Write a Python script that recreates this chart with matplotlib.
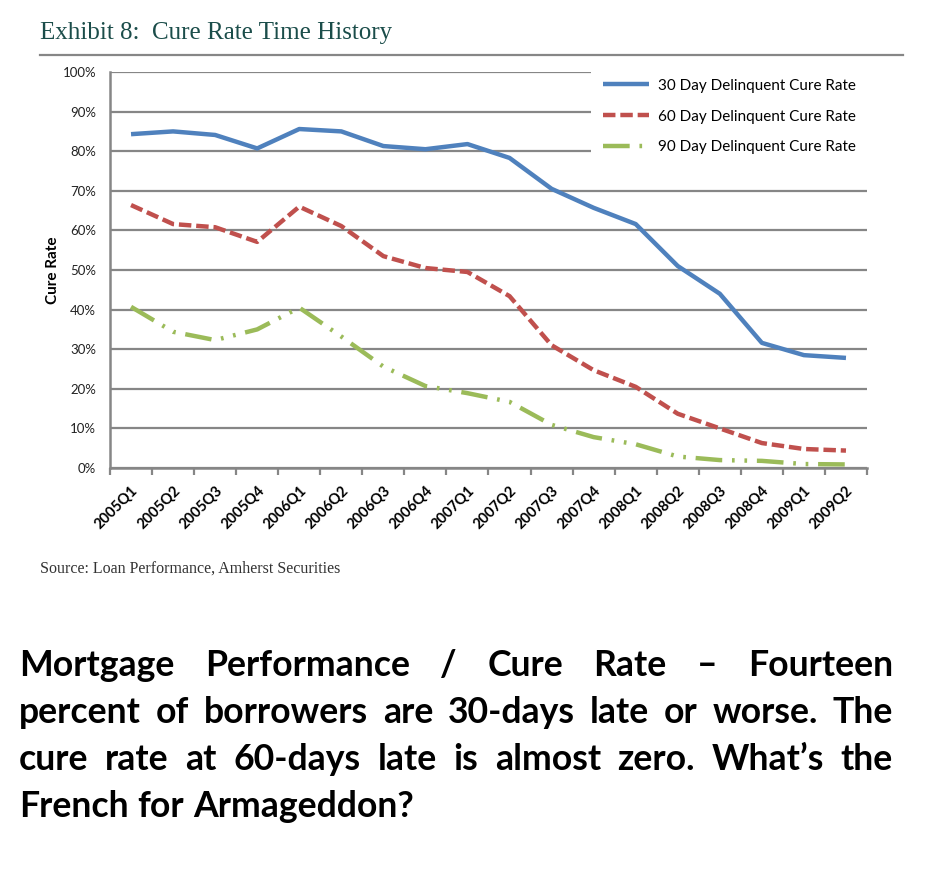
import numpy as np
import matplotlib
matplotlib.use('Agg')
import matplotlib.pyplot as plt

quarters = ['2005Q1', '2005Q2', '2005Q3', '2005Q4', '2006Q1', '2006Q2', '2006Q3', '2006Q4',
            '2007Q1', '2007Q2', '2007Q3', '2007Q4', '2008Q1', '2008Q2', '2008Q3', '2008Q4',
            '2009Q1', '2009Q2']
cure_30 = [84.3, 85.0, 84.1, 80.7, 85.6, 85.0, 81.3, 80.5, 81.8, 78.3, 70.5, 65.7,
           61.6, 51.0, 44.0, 31.6, 28.5, 27.8]
cure_60 = [66.4, 61.6, 60.8, 57.1, 66.0, 61.1, 53.5, 50.5, 49.5, 43.4, 31.0, 24.7,
           20.5, 13.7, 10.0, 6.3, 4.8, 4.4]
cure_90 = [40.7, 34.4, 32.3, 35.0, 40.5, 33.2, 25.6, 20.7, 18.9, 16.7, 10.9, 7.8,
           6.0, 2.9, 2.0, 1.8, 1.0, 0.9]
series_names = ['30 Day Delinquent Cure Rate', '60 Day Delinquent Cure Rate',
                '90 Day Delinquent Cure Rate']

paragraph = ['Mortgage Performance / Cure Rate \u2013 Fourteen',
             'percent of borrowers are 30-days late or worse. The',
             'cure rate at 60-days late is almost zero. What\u2019s the',
             'French for Armageddon?']

W, H = 927, 872
fig = plt.figure(figsize=(W / 100, H / 100), dpi=100)
sans = ['Lato', 'DejaVu Sans']
grid_c = '#868686'

ax = fig.add_axes([110 / W, 1 - 468 / H, (867 - 110) / W, (468 - 72) / H])
x = np.arange(len(quarters))
ax.plot(x, cure_30, color='#4F81BD', lw=3.2, solid_capstyle='butt', label=series_names[0])
ax.plot(x, cure_60, color='#C0504D', lw=3.2, dashes=(2.8, 1.1), label=series_names[1])
ax.plot(x, cure_90, color='#9BBB59', lw=3.2, dashes=(6, 2.2, 0.6, 2.2, 0.6, 2.2),
        label=series_names[2])

ax.set_xlim(-0.5, len(quarters) - 0.5)
ax.set_ylim(0, 100)
ax.set_yticks(np.arange(0, 101, 10))
ax.set_yticklabels(['%d%%' % v for v in range(0, 101, 10)], fontsize=9.5, family=sans, color='#222222')
ax.yaxis.grid(True, color=grid_c, lw=1.6)
ax.set_axisbelow(True)
ax.tick_params(axis='y', length=0, pad=10)

ax.set_xticks(np.arange(-0.5, len(quarters), 1.0))
ax.set_xticklabels([])
ax.set_xticks(x, minor=True)
ax.set_xticklabels(quarters, minor=True, rotation=45, ha='right', va='top',
                   rotation_mode='anchor', fontsize=10.5, fontweight='bold', family=sans)
ax.tick_params(axis='x', which='major', direction='out', length=5, width=1.6, color=grid_c)
ax.tick_params(axis='x', which='minor', length=0, pad=11)
for s in ['top', 'right']:
    ax.spines[s].set_visible(False)
for s in ['left', 'bottom']:
    ax.spines[s].set_color(grid_c)
    ax.spines[s].set_linewidth(1.8)

ax.set_ylabel('Cure Rate', fontsize=11, fontweight='bold', family=sans, labelpad=2)

leg = ax.legend(loc='upper right', bbox_to_anchor=(1.0, 1.012), borderaxespad=0,
                frameon=True, fancybox=False, framealpha=1, edgecolor='white',
                prop={'family': sans, 'size': 11}, handlelength=3.0, handletextpad=0.6,
                labelspacing=1.1, borderpad=0.75)
leg.get_frame().set_linewidth(0)

# header
fig.text(40 / W, 1 - 33 / H, 'Exhibit 8:  Cure Rate Time History', fontsize=18,
         family='Liberation Serif', color='#1b4d4a', va='center')
fig.add_artist(plt.Line2D([40 / W, 903 / W], [1 - 55 / H, 1 - 55 / H], color=grid_c, lw=1.6))

fig.text(40 / W, 1 - 569 / H, 'Source: Loan Performance, Amherst Securities', fontsize=11.5,
         family='Liberation Serif', color='#333333', va='center')

# justified paragraph
x0, x1 = 19, 893
ys = [665, 712, 759, 806]
renderer = fig.canvas.get_renderer()

def word_widths(words, size):
    out = []
    for w in words:
        t = fig.text(0, 0, w, fontsize=size, fontweight='bold', family=sans)
        out.append(t.get_window_extent(renderer).width)
        t.remove()
    return out

probe = fig.text(0, 0, paragraph[-1], fontsize=20, fontweight='bold', family=sans)
size = 20 * 394 / probe.get_window_extent(renderer).width
probe.remove()
for line in paragraph[:-1]:
    words = line.split()
    need = sum(word_widths(words, size)) + size * 1.39 * 0.12 * (len(words) - 1)
    if need > x1 - x0:
        size *= (x1 - x0) / need

for i, line in enumerate(paragraph):
    words = line.split()
    widths = word_widths(words, size)
    space = size * 1.39 * 0.25
    if i < len(paragraph) - 1:
        space = (x1 - x0 - sum(widths)) / (len(words) - 1)
    pos = x0
    for w, wd in zip(words, widths):
        fig.text(pos / W, 1 - ys[i] / H, w, fontsize=size, fontweight='bold', family=sans,
                 color='black', va='center')
        pos += wd + space

fig.savefig('out.png', dpi=100)
